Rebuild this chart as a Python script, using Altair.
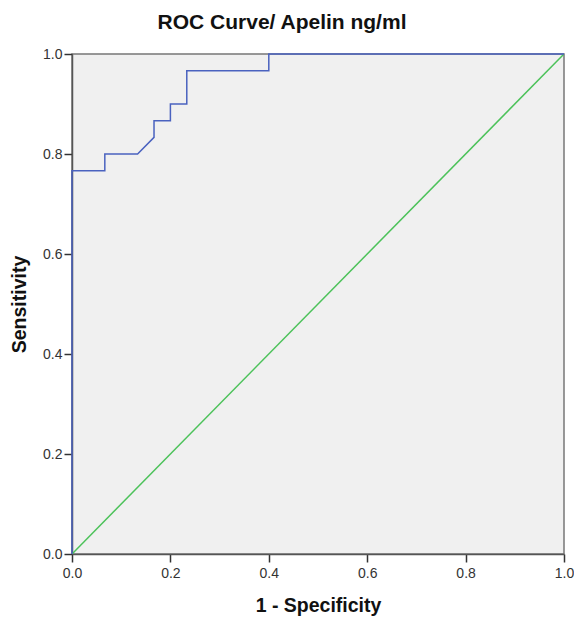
import altair as alt
import pandas as pd

# ROC curve points (1 - specificity, sensitivity)
fpr = [0.0, 0.0, 0.0667, 0.0667, 0.1333, 0.1667, 0.1667, 0.2, 0.2, 0.2333, 0.2333, 0.4, 0.4, 1.0]
tpr = [0.0, 0.7667, 0.7667, 0.8, 0.8, 0.8333, 0.8667, 0.8667, 0.9, 0.9, 0.9667, 0.9667, 1.0, 1.0]
ref_x = [0.0, 1.0]
ref_y = [0.0, 1.0]
ticks = [0.0, 0.2, 0.4, 0.6, 0.8, 1.0]

roc = pd.DataFrame({"fpr": fpr, "tpr": tpr, "order": list(range(len(fpr)))})
ref = pd.DataFrame({"fpr": ref_x, "tpr": ref_y, "order": [0, 1]})

xs = alt.Scale(domain=[0, 1], nice=False, zero=False)
ys = alt.Scale(domain=[0, 1], nice=False, zero=False)

x_axis = alt.Axis(values=ticks, format=".1f", title="1 - Specificity", grid=False,
                  labelFont="Liberation Sans", labelFontSize=14, labelColor="#333333",
                  labelFlush=False,
                  titleFont="Liberation Sans", titleFontSize=19.5, titleFontWeight="bold",
                  titleColor="#111111", titlePadding=16, tickSize=8, tickColor="#333333",
                  tickWidth=1.5,
                  domainColor="#555555", domainWidth=1.5, labelPadding=4)
y_axis = alt.Axis(values=ticks, format=".1f", title="Sensitivity", grid=False,
                  labelFont="Liberation Sans", labelFontSize=14, labelColor="#333333",
                  labelFlush=False,
                  titleFont="Liberation Sans", titleFontSize=19.5, titleFontWeight="bold",
                  titleColor="#111111", titlePadding=13, tickSize=8, tickColor="#333333",
                  tickWidth=1.5,
                  domainColor="#555555", domainWidth=1.5, labelPadding=2)

diag = alt.Chart(ref).mark_line(color="#4cc25a", strokeWidth=1.5, clip=True).encode(
    x=alt.X("fpr:Q", scale=xs, axis=x_axis),
    y=alt.Y("tpr:Q", scale=ys, axis=y_axis),
    order="order:Q",
)

curve = alt.Chart(roc).mark_line(color="#4a62bf", strokeWidth=1.5, clip=False).encode(
    x=alt.X("fpr:Q", scale=xs),
    y=alt.Y("tpr:Q", scale=ys),
    order="order:Q",
)

chart = alt.layer(diag, curve).properties(
    width=492,
    height=500,
    title=alt.TitleParams("ROC Curve/ Apelin ng/ml", font="Liberation Sans", fontSize=21,
                          fontWeight="bold", color="#111111", anchor="middle", offset=14,
                          dx=-36),
    autosize=alt.AutoSizeParams(type="none"),
    padding={"left": 72, "top": 54, "right": 10, "bottom": 64},
    background="white",
).configure_view(
    fill="#f0f0f0", stroke="#777777", strokeWidth=1.5
)

chart.save("out.html", embed_options={"renderer": "svg", "actions": False})
